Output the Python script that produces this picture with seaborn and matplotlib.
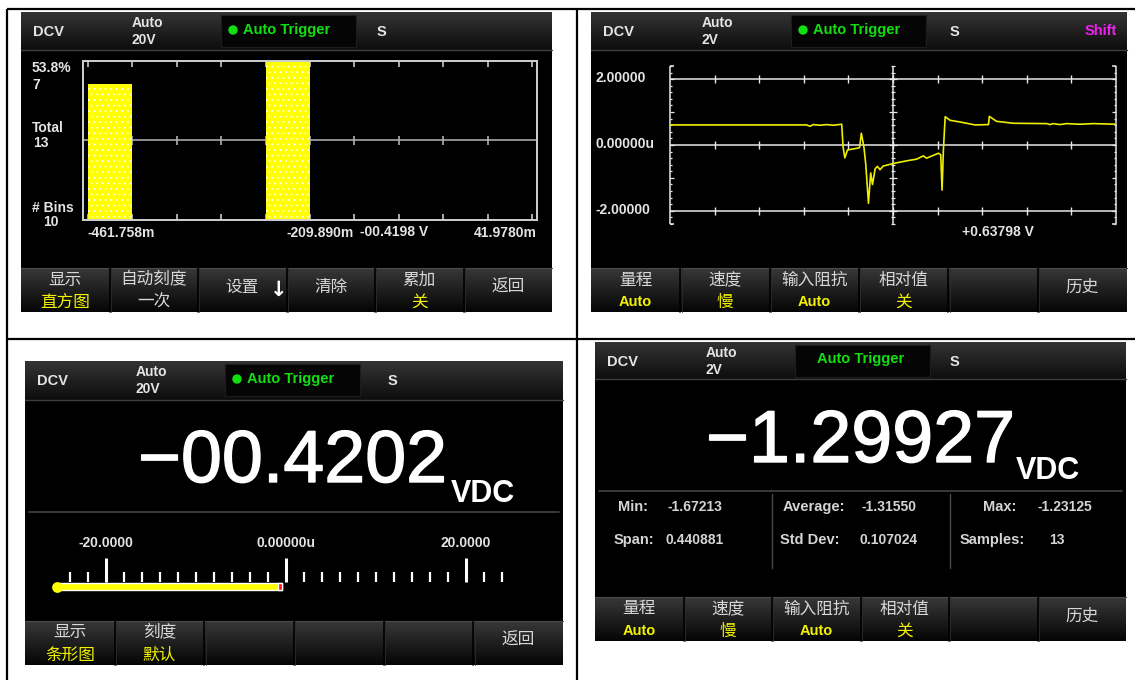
import numpy as np
import pandas as pd
import matplotlib
matplotlib.use("Agg")
import matplotlib.pyplot as plt
import matplotlib.colors as mcolors
import matplotlib.patheffects as pe
from matplotlib.patches import Rectangle, Circle
import seaborn as sns

W, H = 1135, 680

#Histogram screen (top left), bin range in mV
hist_lo = -461.758
hist_hi = 41.978
hist_counts = [6, 0, 0, 0, 7, 0, 0, 0, 0, 0]
hist_total = 13
hist_reading = "-00.4198"

#Trend screen (top right), time in divisions and volts
trend_t = [0.00, 3.06, 3.14, 3.21, 3.36, 3.51, 3.66, 3.85, 3.88, 3.92, 3.98, 4.19,
           4.25, 4.29, 4.35, 4.39, 4.45, 4.50, 4.54, 4.60, 4.65, 4.71, 4.78, 5.01,
           5.31, 5.53, 5.68, 5.75, 6.02, 6.07, 6.10, 6.13, 6.17, 6.28, 6.50, 6.84,
           7.14, 7.16, 7.32, 7.70, 8.45, 8.52, 8.59, 8.74, 8.89, 9.19, 9.49, 10.00]
trend_v = [0.61, 0.61, 0.57, 0.62, 0.60, 0.62, 0.60, 0.63, -0.05, -0.39, -0.15, -0.10,
           -0.08, 0.36, -0.08, -0.60, -1.77, -0.85, -1.20, -0.72, -0.65, -0.75, -0.64, -0.56,
           -0.48, -0.43, -0.33, -0.40, -0.25, -0.30, -1.37, -0.15, 0.86, 0.75, 0.70, 0.61,
           0.62, 0.87, 0.72, 0.66, 0.65, 0.62, 0.65, 0.62, 0.65, 0.63, 0.65, 0.63]
trend_levels = [2.0, 0.0, -2.0]
trend_reading = "+0.63798"

#Bar meter screen (bottom left)
meter_value = -0.4202
meter_labels = [-20.0, 0.0, 20.0]
meter_start = -25.5

#Statistics screen (bottom right)
stats_reading = -1.29927
stats_names = ["Min:", "Span:", "Average:", "Std Dev:", "Max:", "Samples:"]
stats_values = ["-1.67213", "0.440881", "-1.31550", "0.107024", "-1.23125", "13"]

#Softkey menus (top line, bottom line)
keys_hist = [("显示", "直方图"), ("自动刻度", "一次"), ("设置", ""), ("清除", ""), ("累加", "关"), ("返回", "")]
keys_meas = [("量程", "Auto"), ("速度", "慢"), ("输入阻抗", "Auto"), ("相对值", "关"), ("", ""), ("历史", "")]
keys_bar = [("显示", "条形图"), ("刻度", "默认"), ("", ""), ("", ""), ("", ""), ("返回", "")]

sns.set_theme(style="white")
plt.rcParams['font.family'] = ['Liberation Sans', 'Noto Sans CJK SC', 'DejaVu Sans']
plt.rcParams['hatch.linewidth'] = 0.6
CJK = ['Noto Sans CJK SC', 'DejaVu Sans']
YEL = '#f2f200'
TXT = '#e4e4e4'
THICK = [pe.withStroke(linewidth=1.0, foreground='white')]

fig = plt.figure(figsize=(W / 100, H / 100), dpi=100)
fig.patch.set_facecolor('white')

base = fig.add_axes([0, 0, 1, 1])
base.axis('off')


def px_axes(x, y, w, h):
    return fig.add_axes([x / W, 1 - (y + h) / H, w / W, h / H])


def gradient(x0, x1, y0, y1, c_top, c_bot):
    top = np.array(mcolors.to_rgb(c_top))
    bot = np.array(mcolors.to_rgb(c_bot))
    g = np.linspace(0, 1, 64)[:, None, None]
    img = top + (bot - top) * g
    base.imshow(img, extent=(x0, x1, y1, y0), aspect='auto', interpolation='bilinear', zorder=2)


def screen(ox, oy, w, h, head_h, keys, rng, s_x, dot=True, shift=False):
    base.add_patch(Rectangle((ox, oy), w, h, facecolor='black', edgecolor='none', zorder=1))
    gradient(ox, ox + w, oy, oy + head_h, '#343434', '#0d0d0d')
    base.plot([ox, ox + w], [oy + head_h] * 2, color='#3e3e3e', lw=1, zorder=3)
    #header texts
    base.text(ox + 12, oy + 20, "DCV", color=TXT, fontsize=10.5, weight='bold', va='center', zorder=5)
    base.text(ox + 111, oy + 11, "Auto", color=TXT, fontsize=10, weight='bold', va='center', zorder=5)
    base.text(ox + 111, oy + 28, rng, color=TXT, fontsize=10, weight='bold', va='center', zorder=5)
    base.add_patch(Rectangle((ox + 200, oy + 3), 135, 32, facecolor='#050505',
                             edgecolor='#1c1c1c', lw=0.8, zorder=4))
    if dot:
        base.add_patch(Circle((ox + 212, oy + 18), 4, color='#10e010', zorder=5))
        base.text(ox + 222, oy + 18, "Auto Trigger", color='#10e010', fontsize=10.5,
                  weight='bold', va='center', zorder=5)
    else:
        base.text(ox + 266, oy + 17, "Auto Trigger", color='#10e010', fontsize=10.5,
                  weight='bold', va='center', ha='center', zorder=5)
    base.text(s_x, oy + 20, "S", color=TXT, fontsize=10.5, weight='bold', va='center', zorder=5)
    if shift:
        base.text(ox + w - 10, oy + 19, "Shift", color='#f020f0', fontsize=10.5,
                  weight='bold', va='center', ha='right', zorder=5)
    #softkey bar
    ky = oy + h - 44
    gradient(ox, ox + w, ky, oy + h, '#383838', '#050505')
    base.plot([ox, ox + w], [ky, ky], color='#4c4c4c', lw=0.8, zorder=3)
    bw = w / 6
    for i in range(1, 6):
        x = ox + bw * i
        base.plot([x, x], [ky, oy + h], color='#000000', lw=1.2, zorder=3)
        base.plot([x + 1.2, x + 1.2], [ky, oy + h], color='#2c2c2c', lw=0.6, zorder=3)
    for i, (top, bot) in enumerate(keys):
        cx = ox + bw * (i + 0.5)
        if bot:
            base.text(cx, ky + 12, top, color='#d8d8d8', fontsize=12, family=CJK,
                      ha='center', va='center', zorder=5)
            col = '#d8d8d8' if bot == "一次" else YEL
            if bot.isascii():
                base.text(cx, ky + 34, bot, color=col, fontsize=10.5, weight='bold',
                          ha='center', va='center', zorder=5)
            else:
                base.text(cx, ky + 34, bot, color=col, fontsize=12, family=CJK,
                          ha='center', va='center', zorder=5)
        elif top:
            base.text(cx, ky + 19, top, color='#d8d8d8', fontsize=12, family=CJK,
                      ha='center', va='center', zorder=5)
    return ky


#table grid
for y in (9, 339):
    base.plot([7, W], [y, y], color='black', lw=1.6, zorder=6, solid_capstyle='butt')
for x in (7, 577):
    base.plot([x, x], [9, H], color='black', lw=1.6, zorder=6, solid_capstyle='butt')

#Screen 1: histogram
screen(21, 12, 531, 300, 38, keys_hist, "20V", 377)
base.text(279, 290, "↓", color='white', fontsize=15, weight='bold', family=['DejaVu Sans'],
          ha='center', va='center', zorder=5)
pct = max(hist_counts) / hist_total * 100
for txt, x, y in [(f"{pct:.1f}%", 32, 68), (str(max(hist_counts)), 32, 85),
                  ("Total", 32, 128), (str(hist_total), 33, 143), ("# Bins", 32, 208)]:
    base.text(x, y, txt, color=TXT, fontsize=10, weight='bold', va='center', zorder=5)
base.text(51, 222, str(len(hist_counts)), color=TXT, fontsize=10, weight='bold',
          va='center', ha='center', zorder=5)
base.text(87, 233, f"{hist_lo:.3f}m", color=TXT, fontsize=10, weight='bold', va='center', zorder=5)
base.text(354, 233, f"{(hist_lo + hist_hi) / 2:.3f}m", color=TXT, fontsize=10, weight='bold',
          va='center', ha='right', zorder=5)
base.text(360, 232, hist_reading + " V", color=TXT, fontsize=10, weight='bold', va='center', zorder=5)
base.text(537, 233, f"{hist_hi:.4f}m", color=TXT, fontsize=10, weight='bold',
          va='center', ha='right', zorder=5)

#Screen 2: trend
screen(591, 12, 536, 300, 38, keys_meas, "2V", 950, shift=True)
for lvl, y in zip(trend_levels, (78, 144, 210)):
    lab = "0.00000u" if lvl == 0 else f"{lvl:.5f}"
    base.text(596, y, lab, color=TXT, fontsize=10, weight='bold', va='center', zorder=5)
base.text(962, 232, trend_reading + " V", color=TXT, fontsize=10, weight='bold', va='center', zorder=5)

#Screen 3: bar meter
screen(25, 361, 538, 304, 39, keys_bar, "20V", 388)
base.text(138, 482, f"−{abs(meter_value):07.4f}", color='white', fontsize=53, va='baseline',
          zorder=5, path_effects=THICK)
base.text(451, 502, "VDC", color='white', fontsize=22, weight='bold', va='baseline', zorder=5)
base.plot([29, 559], [512, 512], color='#444444', lw=1.2, zorder=3)

#Screen 4: statistics
screen(595, 342, 531, 299, 37, keys_meas, "2V", 950, dot=False)
base.text(706, 462, f"−{abs(stats_reading):.5f}", color='white', fontsize=53, va='baseline',
          zorder=5, path_effects=THICK)
base.text(1016, 479, "VDC", color='white', fontsize=22, weight='bold', va='baseline', zorder=5)
base.plot([599, 1122], [491, 491], color='#444444', lw=1.2, zorder=3)
for x in (772, 950):
    base.plot([x, x], [494, 568], color='#4a4a4a', lw=1.0, zorder=3)
name_pos = [(618, 507), (614, 540), (783, 507), (780, 540), (983, 507), (960, 540)]
val_pos = [(667, 507), (666, 540), (861, 507), (860, 540), (1038, 507), (1049, 540)]
for nm, vl, (nx, ny), (vx, vy) in zip(stats_names, stats_values, name_pos, val_pos):
    base.text(nx, ny, nm, color='#d4d4d4', fontsize=10.5, weight='bold', va='center', zorder=5)
    base.text(vx, vy, vl, color='#d4d4d4', fontsize=10, weight='bold', va='center', zorder=5)

base.set_xlim(0, W)
base.set_ylim(H, 0)

#histogram plot area
ax1 = px_axes(83, 61, 454, 159)
edges = np.linspace(hist_lo, hist_hi, len(hist_counts) + 1)
hist_df = pd.DataFrame({'mv': (edges[:-1] + edges[1:]) / 2, 'n': hist_counts})
sns.histplot(data=hist_df, x='mv', weights='n', bins=list(edges), color='#ffff00', alpha=1,
             linewidth=0, ax=ax1, zorder=2)
for p in ax1.patches:
    p.set_hatch('...')
    p.set_edgecolor('#fffff4')
    p.set_linewidth(0)
bwid = edges[1] - edges[0]
ax1.set_xlim(hist_lo - 0.113 * bwid, hist_hi + 0.11 * bwid)
ax1.set_ylim(0, max(hist_counts))
ax1.set_facecolor('none')
ax1.set_xlabel('')
ax1.set_ylabel('')
for sp in ax1.spines.values():
    sp.set_color('#d0d0d0')
    sp.set_linewidth(1.4)
ax1.set_xticks(edges)
ax1.set_yticks([])
ax1.tick_params(axis='x', direction='in', top=True, bottom=True, length=4, width=1.2,
                color='#c8c8c8', labelbottom=False)
mid = max(hist_counts) / 2
ax1.axhline(mid, color='#a8a8a8', lw=1.2, zorder=0.5)
ax1.vlines(edges[1:-1], mid - 0.18, mid + 0.18, color='#b0b0b0', lw=1.2, zorder=0.6)

#trend plot area
ax2 = px_axes(670, 66, 446, 158)
GRID = '#e8e8e8'
pxx = 10 / 446
for lvl in trend_levels:
    ax2.hlines(lvl, 0, 10, color=GRID, lw=1.1, clip_on=False)
    ax2.vlines(np.arange(1, 10), lvl - 0.12, lvl + 0.12, color=GRID, lw=1.0, clip_on=False)
ax2.vlines([0, 5, 10], -2.4, 2.4, color=GRID, lw=1.1, clip_on=False)
tv = np.round(np.arange(-2.4, 2.41, 0.2), 1)
tl = np.where(np.isclose(tv % 1, 0) | np.isclose(tv % 1, 1), 4, 2) * pxx
ax2.hlines(tv, 0, tl, color=GRID, lw=0.9, clip_on=False)
ax2.hlines(tv, 10 - tl, 10, color=GRID, lw=0.9, clip_on=False)
ax2.hlines(tv, 5 - tl, 5 + tl, color=GRID, lw=0.9, clip_on=False)
ax2.hlines([-2.4, 2.4], 0, 4 * pxx, color=GRID, lw=1.1, clip_on=False)
ax2.hlines([-2.4, 2.4], 10 - 4 * pxx, 10, color=GRID, lw=1.1, clip_on=False)
trend_df = pd.DataFrame({'t': trend_t, 'v': trend_v})
sns.lineplot(data=trend_df, x='t', y='v', ax=ax2, color='#eeee00', lw=1.2, estimator=None, sort=False)
ax2.set_xlim(0, 10)
ax2.set_ylim(-2.4, 2.4)
ax2.axis('off')

#bar meter area (y in screen pixels)
ax3 = px_axes(52, 535, 468, 65)
minor = [v for v in np.arange(-24, 25, 2) if v not in meter_labels]
ax3.vlines(minor, 572, 582, color='white', lw=1.6)
ax3.vlines(meter_labels, 558, 582, color='white', lw=2.2)
for v in meter_labels:
    lab = "0.00000u" if v == 0 else f"{v:.4f}"
    ax3.text(v, 543, lab, color=TXT, fontsize=10, weight='bold', ha='center', va='center')
ax3.barh(586.5, meter_value - meter_start, left=meter_start, height=7, color='#ffff00')
ax3.barh(586.5, 0.45, left=meter_value - 0.45, height=7, color='#ff1010')
ax3.scatter([meter_start + 0.1], [586.5], s=60, color='#ffff00', zorder=3, linewidths=0)
ax3.set_xlim(-26, 26)
ax3.set_ylim(600, 535)
ax3.axis('off')

fig.savefig("out.png", dpi=100, facecolor='white')
